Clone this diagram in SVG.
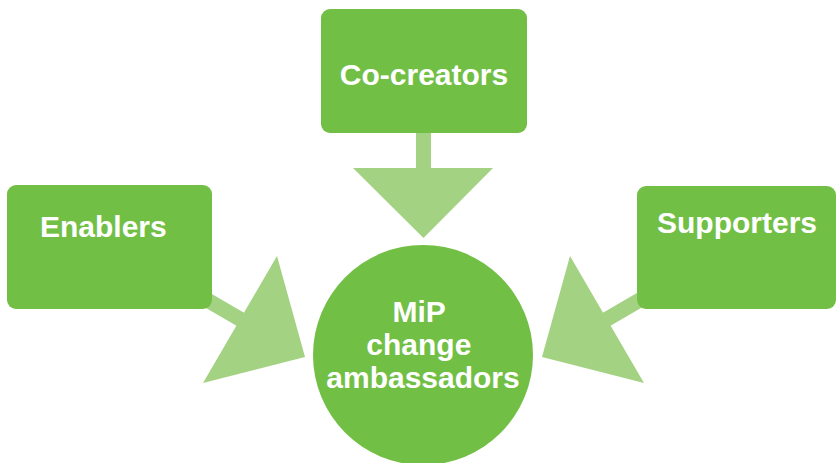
<svg xmlns="http://www.w3.org/2000/svg" width="837" height="463" viewBox="0 0 837 463">
  <style>
    .box { fill: #72BF46; }
    .arrow { fill: #A3D283; }
    .stem { stroke: #A3D283; stroke-width: 15; fill: none; }
    .label { fill: #FFFFFF; font-family: "Liberation Sans", Arial, Helvetica, sans-serif; font-weight: bold; font-size: 30px; }
  </style>
  <rect width="837" height="463" fill="#FFFFFF"/>

  <!-- connectors: block arrows pointing into the central circle -->
  <g id="connectors">
    <line class="stem" x1="423.5" y1="130" x2="423.5" y2="170"/>
    <polygon class="arrow" points="353,168 493,168 423.5,238"/>

    <line class="stem" x1="190" y1="290" x2="245" y2="322"/>
    <polygon class="arrow" points="277,256 203,383 305,357"/>

    <line class="stem" x1="657" y1="290" x2="602" y2="322"/>
    <polygon class="arrow" points="570,256 644,383 542,357"/>
  </g>

  <g id="co-creators">
    <rect class="box" x="321" y="9" width="206" height="124" rx="9"/>
    <text class="label" x="424" y="85" text-anchor="middle">Co-creators</text>
  </g>

  <g id="enablers">
    <rect class="box" x="7" y="185" width="205" height="124" rx="9"/>
    <text class="label" x="40" y="237">Enablers</text>
  </g>

  <g id="supporters">
    <rect class="box" x="637" y="186" width="199" height="123" rx="9"/>
    <text class="label" x="657" y="233">Supporters</text>
  </g>

  <g id="ambassadors">
    <circle class="box" cx="423" cy="355" r="110"/>
    <text class="label" text-anchor="middle" x="423">
      <tspan x="423" y="322">MiP</tspan>
      <tspan x="423" y="355">change</tspan>
      <tspan x="423" y="388">ambassadors</tspan>
    </text>
  </g>
</svg>
